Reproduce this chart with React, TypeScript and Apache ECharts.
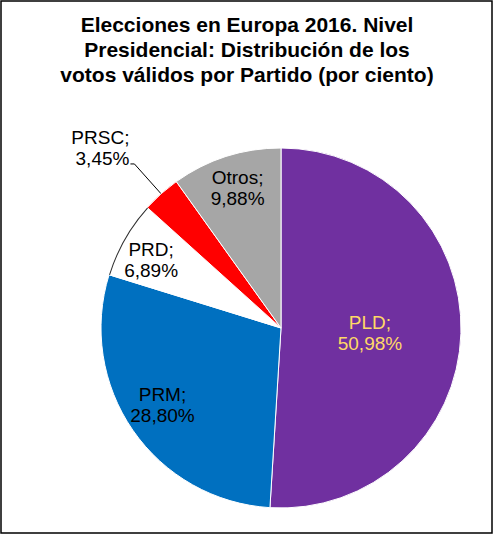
import React, { useEffect, useRef } from "react";
import * as echarts from "echarts";

const titleText = "Elecciones en Europa 2016. Nivel\nPresidencial: Distribución de los\nvotos válidos por Partido (por ciento)";
const parties = ["PLD", "PRM", "PRD", "PRSC", "Otros"];
const shares = [50.98, 28.8, 6.89, 3.45, 9.88];
const colors = ["#7030A0", "#0070C0", "#FFFFFF", "#FF0000", "#A6A6A6"];
const labelColors = ["#FFD966", "#000000", "#000000", "#000000", "#000000"];
const labelShift: ([number, number] | null)[] = [[-4, 2], [-42, 24], [-49, -22], null, [-15, -51]];

const fmt = (v: number) => v.toFixed(2).replace(".", ",");

export default function App() {
  const ref = useRef<HTMLDivElement>(null);
  useEffect(() => {
    document.body.style.margin = "0";
    const chart = echarts.init(ref.current!, null, { renderer: "svg" });
    const font = "Arial, 'Liberation Sans', sans-serif";
    chart.setOption({
      animation: false,
      backgroundColor: "#ffffff",
      title: {
        text: titleText,
        left: "center",
        top: 7,
        textStyle: { fontFamily: font, fontSize: 21, fontWeight: "bold", color: "#000", lineHeight: 25 },
      },
      graphic: [
        {
          type: "rect",
          shape: { x: 1, y: 1, width: 491, height: 532 },
          style: { fill: "none", stroke: "#000", lineWidth: 1.5 },
          z: 100,
        },
      ],
      series: [
        {
          type: "pie",
          center: [281, 328],
          radius: [0, 180],
          startAngle: 90,
          clockwise: true,
          avoidLabelOverlap: false,
          itemStyle: { borderColor: "#ffffff", borderWidth: 1 },
          label: {
            show: true,
            position: "inside",
            fontFamily: font,
            fontSize: 19,
            lineHeight: 21,
            formatter: (p: any) =>
              labelShift[p.dataIndex] === null
                ? `{t|${p.name};}\n{t|${fmt(p.value)}%}\n{s| }`
                : `${p.name};\n${fmt(p.value)}%`,
            rich: {
              t: { fontFamily: font, fontSize: 19, lineHeight: 21, color: "#000" },
              s: { fontSize: 1, lineHeight: 31 },
            },
          },
          labelLayout: (p: any) => {
            const s = labelShift[p.dataIndex];
            return s ? { dx: s[0], dy: s[1] } : {};
          },
          data: parties.map((name, i) => {
            const item: any = {
              name,
              value: shares[i],
              itemStyle: { color: colors[i] },
              label: { color: labelColors[i] },
            };
            if (labelShift[i] === null) {
              item.label = {
                color: labelColors[i],
                position: "outside",
                distanceToLabelLine: 1,
                align: "center",
              };
              item.labelLine = {
                show: true,
                length: 40,
                length2: 4,
                lineStyle: { color: "#000", width: 1 },
              };
            }
            return item;
          }),
        },
        {
          type: "pie",
          center: [281, 328],
          radius: [179, 180],
          startAngle: 90,
          clockwise: true,
          silent: true,
          label: { show: false },
          labelLine: { show: false },
          data: parties.map((name, i) => ({
            name,
            value: shares[i],
            itemStyle: { color: colors[i] === "#FFFFFF" ? "#303030" : "rgba(0,0,0,0)" },
          })),
        },
      ],
    });
    return () => chart.dispose();
  }, []);
  return <div ref={ref} style={{ width: 494, height: 535 }} />;
}
